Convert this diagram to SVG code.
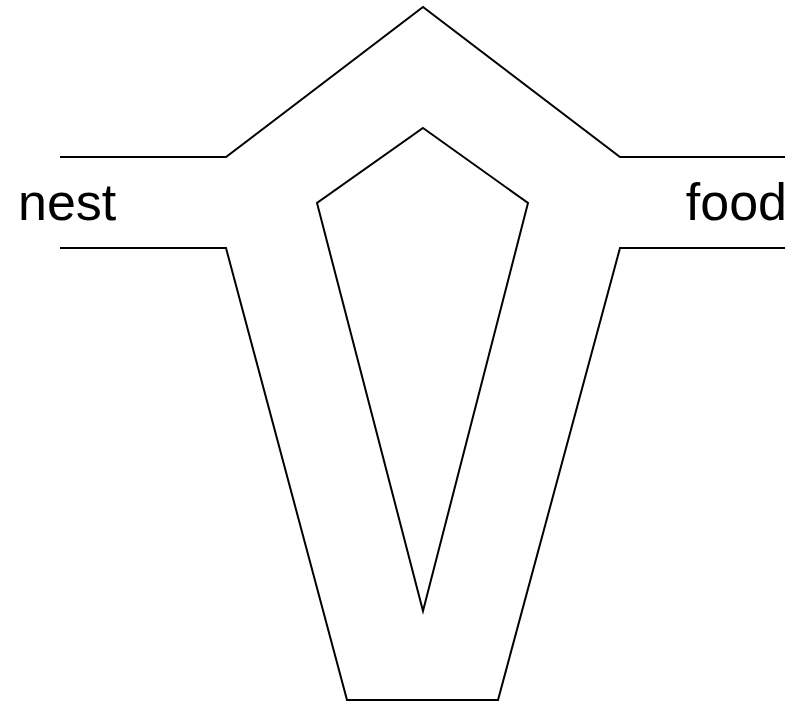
<svg xmlns="http://www.w3.org/2000/svg" width="800" height="702" viewBox="0 0 800 702">
<style>
.ln{fill:none;stroke:#000;stroke-width:2;stroke-linejoin:miter}
.lb{font-family:"Liberation Sans",Arial,sans-serif;font-size:52px;fill:#000}
</style>
<rect width="800" height="702" fill="#fff"/>
<g id="connectors">
<polyline class="ln" points="60,157 226,157 423,7 620,157 785,157"/>
<polyline class="ln" points="60,248 226,248 347,700 498,700 620,248 785,248"/>
<polygon class="ln" points="423,128 528,203 423,611 317,203"/>
</g>
<g id="nest"><text class="lb" x="18" y="220">nest</text></g>
<g id="food"><text class="lb" x="787" y="220" text-anchor="end">food</text></g>
</svg>
